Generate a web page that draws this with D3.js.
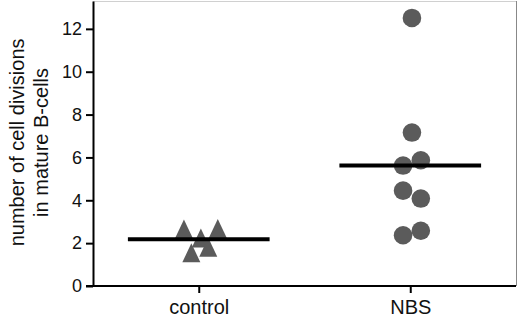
<!DOCTYPE html>
<html>
<head>
<meta charset="utf-8">
<script src="https://cdn.jsdelivr.net/npm/d3@7"></script>
<style>
  body { margin: 0; background: #fff; }
  svg { font-family: "Liberation Sans", Arial, sans-serif; }
</style>
</head>
<body>
<svg id="chart" width="520" height="320"></svg>
<script>
// data
const groups = ["control", "NBS"];
const controlValues = [2.66, 2.24, 1.55, 2.68, 1.81];
const controlJitter = [-0.07, 0.01, -0.035, 0.09, 0.045];   // fraction of group spacing
const nbsValues = [12.51, 7.16, 5.87, 5.62, 4.45, 4.08, 2.58, 2.37];
const nbsJitter = [0.008, 0.008, 0.05, -0.034, -0.034, 0.05, 0.05, -0.034];
const groupMeans = [2.18, 5.62];
const yTicks = [0, 2, 4, 6, 8, 10, 12];

const svg = d3.select("#chart");
const margin = {left: 93, right: 4, top: 1, bottom: 34};
const width = 520, height = 320;

const x = d3.scalePoint()
  .domain(groups)
  .range([margin.left, width - margin.right])
  .padding(0.5);
const step = x.step();

const y = d3.scaleLinear()
  .domain([0, 13.3])
  .range([height - margin.bottom, margin.top]);

// frame (top + right)
svg.append("line")
  .attr("x1", margin.left).attr("x2", width - margin.right)
  .attr("y1", margin.top + 0.5).attr("y2", margin.top + 0.5)
  .attr("stroke", "#d0d0d0");
svg.append("line")
  .attr("x1", width - margin.right + 0.5).attr("x2", width - margin.right + 0.5)
  .attr("y1", margin.top).attr("y2", height - margin.bottom)
  .attr("stroke", "#888");

// y axis
const yAxis = svg.append("g")
  .attr("transform", `translate(${margin.left},0)`)
  .call(d3.axisLeft(y).tickValues(yTicks).tickSize(7).tickPadding(4).tickSizeOuter(0));
yAxis.select(".domain").attr("stroke-width", 2);
yAxis.selectAll(".tick line").attr("stroke-width", 2);
yAxis.selectAll("text").attr("font-size", 18).attr("fill", "#111");

// x axis
const xAxis = svg.append("g")
  .attr("transform", `translate(0,${height - margin.bottom})`)
  .call(d3.axisBottom(x).tickSize(7).tickPadding(7).tickSizeOuter(0));
xAxis.select(".domain").attr("stroke-width", 2)
  .attr("d", `M${margin.left - 7},0H${width - margin.right}`);
xAxis.selectAll(".tick line").attr("stroke-width", 2);
xAxis.selectAll("text").attr("font-size", 20).attr("fill", "#111");

// y title
const title = svg.append("text")
  .attr("transform", `translate(17,${y(6.7)}) rotate(-90)`)
  .attr("text-anchor", "middle")
  .attr("font-size", 20)
  .attr("fill", "#111");
title.append("tspan").attr("x", 0).attr("dy", "0.35em").text("number of cell divisions");
title.append("tspan").attr("x", 0).attr("dy", "1.2em").text("in mature B-cells");

const markerColor = "#5b5b5b";

// control triangles
const tri = d3.line();
svg.append("g").selectAll("path")
  .data(controlValues)
  .join("path")
  .attr("d", (d, i) => {
    const cx = x("control") + controlJitter[i] * step;
    const cy = y(d);
    return tri([[cx, cy - 9.5], [cx + 9, cy + 9.5], [cx - 9, cy + 9.5]]) + "Z";
  })
  .attr("fill", markerColor);

// NBS circles
svg.append("g").selectAll("circle")
  .data(nbsValues)
  .join("circle")
  .attr("cx", (d, i) => x("NBS") + nbsJitter[i] * step)
  .attr("cy", d => y(d))
  .attr("r", 9.3)
  .attr("fill", markerColor);

// mean lines
svg.append("g").selectAll("line")
  .data(groupMeans)
  .join("line")
  .attr("x1", (d, i) => x(groups[i]) - step * 0.335)
  .attr("x2", (d, i) => x(groups[i]) + step * 0.335)
  .attr("y1", d => y(d))
  .attr("y2", d => y(d))
  .attr("stroke", "#000")
  .attr("stroke-width", 4);
</script>
</body>
</html>
